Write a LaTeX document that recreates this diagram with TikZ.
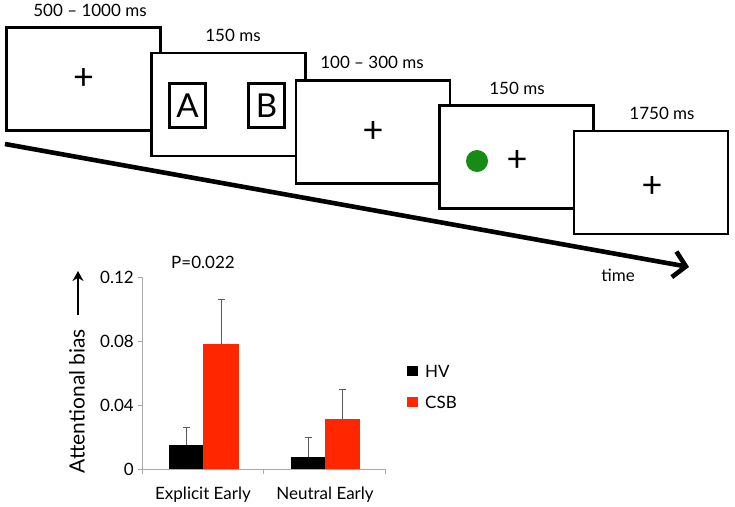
\documentclass[tikz,border=0pt]{standalone}
\usepackage{fontspec}
\setmainfont{Lato}
\usetikzlibrary{arrows.meta,positioning}
\definecolor{csbred}{RGB}{255,38,0}
\definecolor{stimgreen}{RGB}{22,140,22}
\definecolor{axisgray}{RGB}{170,170,170}
\definecolor{errgray}{RGB}{90,90,90}

\begin{document}
\begin{tikzpicture}[x=1pt,y=-1pt,
    screen/.style={draw, line width=2.8pt, fill=white, minimum width=154pt, minimum height=103pt, inner sep=0pt},
    dur/.style={font=\fontsize{17}{19}\selectfont},
    fix/.style={font=\fontsize{36}{36}\selectfont, inner sep=0pt},
    letterbox/.style={draw, line width=2.2pt, minimum width=36pt, minimum height=44pt, inner sep=0pt, font=\fontsize{33}{33}\selectfont},
    lbl/.style={font=\fontsize{17}{19}\selectfont}]
    \useasboundingbox (0,0) rectangle (735,506);

    % time axis
    \coordinate (tstart) at (5,144);
    \coordinate (tend) at (689,267);
    \draw[line width=4.6pt, -{Straight Barb[length=12pt,width=26pt,line width=4.6pt]}] (tstart) -- (tend);
    \node[lbl] (time) at (618,275) {time};

    % screens, one over the next
    \node[screen] (s1) at (83.5,79) {};
    \node[fix] (p1) at (s1.center) {+};
    \node[dur] (d1) at (90,10) {500 – 1000 ms};

    \node[screen] (s2) at (228.5,104.5) {};
    \node[letterbox] (ba) at (187.5,105.5) {A};
    \node[letterbox] (bb) at (266.5,105.5) {B};
    \node[dur] (d2) at (233,35) {150 ms};

    \node[screen] (s3) at (373,132) {};
    \node[fix] (p3) at (s3.center) {+};
    \node[dur] (d3) at (372,62) {100 – 300 ms};

    \node[screen] (s4) at (516.5,157) {};
    \fill[stimgreen] (477,161) circle (11pt);
    \node[fix] (p4) at (517,161) {+};
    \node[dur] (d4) at (517,88) {150 ms};

    \node[screen] (s5) at (651,182.5) {};
    \node[fix] (p5) at (652,187) {+};
    \node[dur] (d5) at (662,113) {1750 ms};

    % bar chart
    \node[lbl] (pval) at (203,262) {P=0.022};
    \node[rotate=90, font=\fontsize{21}{23}\selectfont] (ylab) at (77,401) {Attentional bias};
    \coordinate (ua) at (78,315);
    \coordinate (ub) at (78,271);
    \draw[line width=2.4pt, -{Stealth[length=10pt,width=11pt]}] (ua) -- (ub);

    \begin{scope}[shift={(0,469)}, y=1600pt]
      \draw[axisgray, line width=0.8pt] (142,0.12) -- (142,0) -- (385,0);
      \foreach \v/\t in {0/0, 0.04/0.04, 0.08/0.08, 0.12/0.12} {
        \draw[axisgray, line width=0.8pt] (138,\v) -- (142,\v);
        \node[lbl, left, inner sep=0pt] at (134,\v) {\t};
      }
      \foreach \xx in {142,263,385}
        \draw[axisgray, line width=0.8pt] (\xx,0) -- (\xx,-0.0028);

      % bars: left, right, mean, top of error bar
      \foreach \l/\r/\m/\e/\c in {169/203/0.015/0.026/black, 203/239/0.078/0.106/csbred,
                                   291/325/0.0075/0.020/black, 325/360/0.031/0.050/csbred} {
        \fill[\c] (\l,0) rectangle (\r,\m);
        \draw[errgray, line width=1pt] ({(\l+\r)/2},\m) -- ({(\l+\r)/2},\e);
        \draw[errgray, line width=1pt] ({(\l+\r)/2-3.5},\e) -- ({(\l+\r)/2+3.5},\e);
      }
    \end{scope}
    \node[lbl] (c1) at (203,495) {Explicit Early};
    \node[lbl] (c2) at (325,495) {Neutral Early};

    % legend
    \fill[black] (407,366) rectangle (418,376);
    \node[lbl, right, inner sep=0pt] (lhv) at (425,371) {HV};
    \fill[csbred] (407,397) rectangle (418,407);
    \node[lbl, right, inner sep=0pt] (lcsb) at (425,402) {CSB};
  \end{tikzpicture}
\end{document}
